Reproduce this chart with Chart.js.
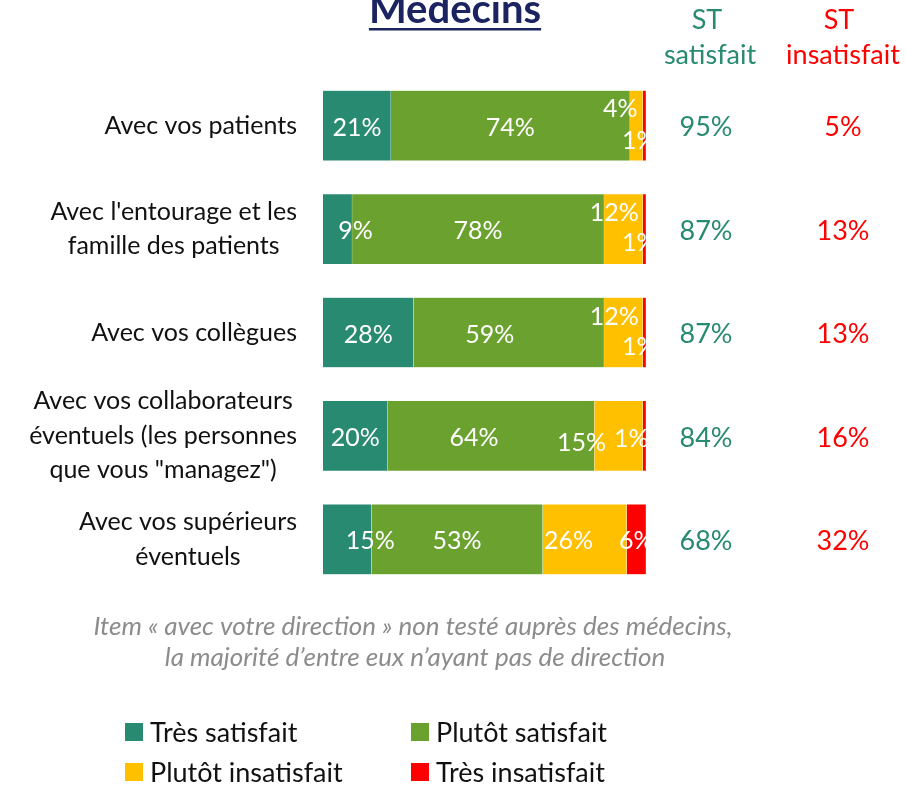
<!DOCTYPE html>
<html>
<head>
<meta charset="utf-8">
<script src="https://cdn.jsdelivr.net/npm/chart.js@4"></script>
<style>
  html, body { margin: 0; padding: 0; background: #fff; }
  #wrap { width: 906px; height: 785px; position: relative; }
</style>
</head>
<body>
<div id="wrap"><canvas id="chart"></canvas></div>
<script>
const categories = [
  [`Avec vos patients`],
  [`Avec l'entourage et les`, `famille des patients`],
  [`Avec vos collègues`],
  [`Avec vos collaborateurs`, `éventuels (les personnes`, `que vous "managez")`],
  [`Avec vos supérieurs`, `éventuels`]
];
const tresSatisfait = [21, 9, 28, 20, 15];
const plutotSatisfait = [74, 78, 59, 64, 53];
const plutotInsatisfait = [4, 12, 12, 15, 26];
const tresInsatisfait = [1, 1, 1, 1, 6];
const stSatisfait = [95, 87, 87, 84, 68];
const stInsatisfait = [5, 13, 13, 16, 32];
const seriesNames = [`Très satisfait`, `Plutôt satisfait`, `Plutôt insatisfait`, `Très insatisfait`];

const colors = [`#288a70`, `#6ba22f`, `#ffc000`, `#ff0000`];
const FONT = `Lato, "Open Sans", sans-serif`;

// manual nudges of the value labels, [dx, dy] per series and row
const labelShift = [
  [[0, 2], [18, 2], [0, 2], [0, 2], [23, 2]],
  [[0, 2], [0, 2], [-19, 2], [-17, 2], [0, 2]],
  [[-16, -17], [-9, -16], [-9, -16], [-37, 7], [-16, 2]],
  [[-5, 15], [-5, 14], [-5, 14], [-13, 3], [0, 2]]
];

const overlay = {
  id: `overlay`,
  afterDatasetsDraw(chart) {
    const ctx = chart.ctx;
    const area = chart.chartArea;
    ctx.save();
    ctx.beginPath();
    ctx.rect(area.left, area.top, area.right - area.left + 2, area.bottom - area.top);
    ctx.clip();
    ctx.font = `25px ${FONT}`;
    ctx.fillStyle = `#fff`;
    ctx.textAlign = `center`;
    ctx.textBaseline = `middle`;
    chart.data.datasets.forEach((ds, i) => {
      chart.getDatasetMeta(i).data.forEach((bar, j) => {
        const cx = (bar.x + bar.base) / 2;
        const s = labelShift[i][j];
        ctx.fillText(ds.data[j] + `%`, cx + s[0], bar.y + s[1]);
      });
    });
    ctx.restore();
  },
  afterDraw(chart) {
    const ctx = chart.ctx;
    const yScale = chart.scales.y;
    ctx.save();
    ctx.textBaseline = `middle`;
    ctx.textAlign = `center`;

    // category labels: block right-aligned, lines centred
    ctx.font = `25px ${FONT}`;
    ctx.fillStyle = `#111`;
    categories.forEach((lines, j) => {
      const yc = yScale.getPixelForValue(j);
      const maxW = Math.max(...lines.map(l => ctx.measureText(l).width));
      const cx = 297 - maxW / 2;
      const lh = 34.5;
      lines.forEach((l, k) => {
        ctx.fillText(l, cx, yc + (k - (lines.length - 1) / 2) * lh);
      });
    });

    // ST columns
    ctx.font = `27px ${FONT}`;
    ctx.fillStyle = colors[0];
    ctx.fillText(`ST`, 707, 20);
    ctx.fillText(`satisfait`, 710, 55);
    ctx.fillStyle = colors[3];
    ctx.fillText(`ST`, 839, 20);
    ctx.fillText(`insatisfait`, 843, 55);
    stSatisfait.forEach((v, j) => {
      const yc = yScale.getPixelForValue(j) + 2;
      ctx.fillStyle = colors[0];
      ctx.fillText(v + `%`, 706, yc);
      ctx.fillStyle = colors[3];
      ctx.fillText(stInsatisfait[j] + `%`, 843, yc);
    });

    // title
    ctx.font = `bold 40px ${FONT}`;
    ctx.fillStyle = `#1b2360`;
    ctx.textBaseline = `alphabetic`;
    ctx.fillText(`Médecins`, 455, 23);
    const tw = ctx.measureText(`Médecins`).width;
    ctx.fillRect(455 - tw / 2, 28, tw, 2.5);

    // footnote
    ctx.textBaseline = `middle`;
    ctx.font = `italic 26px ${FONT}`;
    ctx.fillStyle = `#8c8c8c`;
    ctx.fillText(`Item « avec votre direction » non testé auprès des médecins,`, 413, 627);
    ctx.fillText(`la majorité d’entre eux n’ayant pas de direction`, 415, 658);

    // legend
    ctx.font = `27px ${FONT}`;
    ctx.textAlign = `left`;
    const pos = [[125, 732], [411, 732], [125, 772], [411, 772]];
    seriesNames.forEach((n, i) => {
      const [x, y] = pos[i];
      ctx.fillStyle = colors[i];
      ctx.fillRect(x, y - 9, 18, 18);
      ctx.fillStyle = `#111`;
      ctx.fillText(n, x + 25, y + 1);
    });
    ctx.restore();
  }
};

const datasets = [tresSatisfait, plutotSatisfait, plutotInsatisfait, tresInsatisfait].map((d, i) => ({
  label: seriesNames[i],
  data: d,
  backgroundColor: colors[i],
  borderColor: `rgba(255,255,255,0.6)`,
  borderWidth: 0.5,
  barThickness: 70
}));

new Chart(document.getElementById(`chart`), {
  type: `bar`,
  data: { labels: categories.map(c => c.join(` `)), datasets },
  options: {
    indexAxis: `y`,
    responsive: true,
    maintainAspectRatio: false,
    animation: false,
    events: [],
    layout: { padding: { left: 323, right: 260, top: 74, bottom: 194 } },
    scales: {
      x: { stacked: true, min: 0, max: 100, display: false },
      y: { stacked: true, display: false }
    },
    plugins: {
      legend: { display: false },
      title: { display: false },
      tooltip: { enabled: false }
    }
  },
  plugins: [overlay]
});
</script>
</body>
</html>
